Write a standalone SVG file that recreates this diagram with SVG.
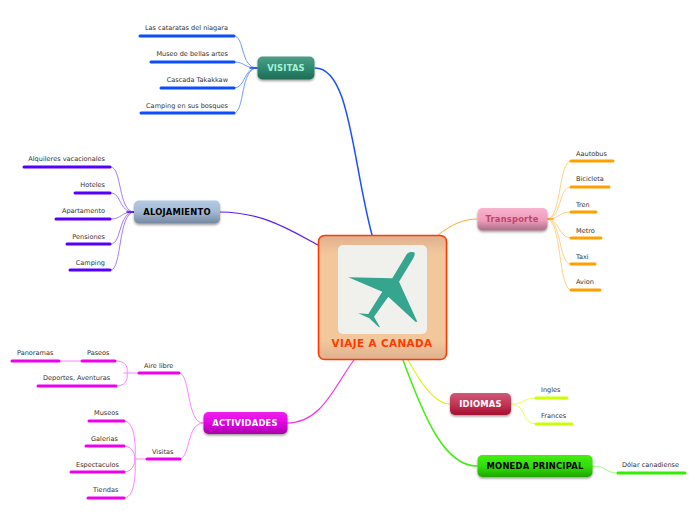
<svg xmlns="http://www.w3.org/2000/svg" width="696" height="520" viewBox="0 0 696 520">
<style>
text{font-family:"DejaVu Sans",sans-serif}
.t{font-size:6.55px;fill:#333}
.e{text-anchor:end}
.n{font-size:8.4px;font-weight:bold;text-anchor:middle;letter-spacing:.2px}
.c{fill:none;stroke-linecap:round}
.b{fill:none;stroke-width:3px;stroke-linecap:round}
.l{stroke-width:1px}
.m{stroke-width:1.5px}
.box{filter:url(#s);stroke-width:1}
</style>
<defs>
<filter id="s" x="-15%" y="-20%" width="130%" height="150%"><feDropShadow dx="0" dy="1.5" stdDeviation="1.2" flood-color="#000" flood-opacity=".4"/></filter>
<linearGradient id="gv" x1="0" y1="0" x2="0" y2="1"><stop offset="0" stop-color="#4f9d87"/><stop offset=".5" stop-color="#2f8a70"/><stop offset="1" stop-color="#1f6b55"/></linearGradient>
<linearGradient id="ga" x1="0" y1="0" x2="0" y2="1"><stop offset="0" stop-color="#b4c9e2"/><stop offset=".5" stop-color="#a3b8d2"/><stop offset="1" stop-color="#7487a0"/></linearGradient>
<linearGradient id="gt" x1="0" y1="0" x2="0" y2="1"><stop offset="0" stop-color="#f9b4cd"/><stop offset=".55" stop-color="#ee9dbb"/><stop offset="1" stop-color="#a96e85"/></linearGradient>
<linearGradient id="gi" x1="0" y1="0" x2="0" y2="1"><stop offset="0" stop-color="#cf5a78"/><stop offset=".5" stop-color="#c23556"/><stop offset="1" stop-color="#a3102f"/></linearGradient>
<linearGradient id="gm" x1="0" y1="0" x2="0" y2="1"><stop offset="0" stop-color="#44ee11"/><stop offset=".55" stop-color="#2fdc06"/><stop offset="1" stop-color="#20a504"/></linearGradient>
<linearGradient id="gc" x1="0" y1="0" x2="0" y2="1"><stop offset="0" stop-color="#ee22ee"/><stop offset=".55" stop-color="#e000e0"/><stop offset="1" stop-color="#a800a8"/></linearGradient>
<linearGradient id="gr" x1="0" y1="0" x2="0" y2="1"><stop offset="0" stop-color="#deb08f"/><stop offset=".15" stop-color="#f3c79c"/><stop offset=".85" stop-color="#f3c79c"/><stop offset="1" stop-color="#deb08f"/></linearGradient>
</defs>

<g id="connectors">
<path class="c" stroke="#1a4fff" stroke-width="1.5" d="M315 68C350 68 352 160 372 235"/>
<path class="c" stroke="#5a1aff" stroke-width="1.2" d="M220 212C262 212 290 230 318 245"/>
<path class="c" stroke="#ffa930" stroke-width="1" d="M438 235C452 224 464 219 477 219"/>
<path class="c" stroke="#ee33ee" stroke-width="1.2" d="M287 423C322 423 335 385 354 360"/>
<path class="c" stroke="#ddf020" stroke-width="1.2" d="M408 360C422 385 435 404 450 404"/>
<path class="c" stroke="#44ee11" stroke-width="1.5" d="M403 360C425 420 445 466 477 466"/>

<g stroke="#7099ff">
<path class="c l" d="M257 68C240 68 245 36 234 36"/>
<path class="c l" d="M257 68C243 68 246 62 234 62"/>
<path class="c l" d="M257 68C243 68 246 88 234 88"/>
<path class="c l" d="M257 68C240 68 245 113 234 113"/>
</g>
<path class="c m" stroke="#0b4dff" d="M250 68H257"/>
<g class="b" stroke="#0b4dff">
<path d="M140 36H234"/><path d="M151 62H234"/><path d="M161 88H234"/><path d="M141 113H234"/>
</g>

<g stroke="#a67aff">
<path class="c l" d="M134 212C118 212 122 167 111 167"/>
<path class="c l" d="M134 212C118 212 122 193 111 193"/>
<path class="c l" d="M134 212C120 212 122 219 111 219"/>
<path class="c l" d="M134 212C118 212 122 244 111 244"/>
<path class="c l" d="M134 212C118 212 122 270 111 270"/>
</g>
<path class="c m" stroke="#5500ff" d="M127 212H134"/>
<g class="b" stroke="#5500ff">
<path d="M24 167H110"/><path d="M75 193H110"/><path d="M56 219H110"/><path d="M67 244H110"/><path d="M70 270H110"/>
</g>

<g stroke="#ffcf8a">
<path class="c l" d="M547 219C562 219 558 161 571 161"/>
<path class="c l" d="M547 219C562 219 558 187 571 187"/>
<path class="c l" d="M547 219C560 219 558 212 571 212"/>
<path class="c l" d="M547 219C560 219 558 238 571 238"/>
<path class="c l" d="M547 219C562 219 558 264 571 264"/>
<path class="c l" d="M547 219C562 219 558 290 571 290"/>
</g>
<path class="c m" stroke="#ff9f00" d="M547 219H553"/>
<g class="b" stroke="#ff9f00">
<path d="M571 161H613"/><path d="M571 187H609"/><path d="M571 212H596"/><path d="M571 238H601"/><path d="M571 264H595"/><path d="M571 290H600"/>
</g>

<g stroke="#e8ff66">
<path class="c l" d="M511 404C525 404 523 398 536 398"/>
<path class="c l" d="M511 404C527 404 521 424 536 424"/>
</g>
<g class="b" stroke="#ccff00"><path d="M536 398H567"/><path d="M536 424H572"/></g>

<path class="c l" stroke="#99ff80" d="M592 466C608 466 604 473 618 473"/>
<path class="b" stroke="#33ee00" d="M618 473H685"/>

<g stroke="#ff80ff">
<path class="c l" d="M203 423C186 423 191 373 179 373"/>
<path class="c l" d="M203 423C186 423 191 459 179 459"/>
<path class="c l" d="M116 361C130 361 127 373 127 373C127 373 130 386 116 386"/>
<path class="c l" d="M60 361H82"/>
<path class="c l" d="M124 373H139"/>
<path class="c l" d="M124 421C138 421 135 459 135 459C135 459 138 498 124 498"/>
<path class="c l" d="M124 446C135 446 135 459 135 459C135 459 135 472 124 472"/>
<path class="c l" d="M135 459H147"/>
</g>
<g class="b" stroke="#ee00ee">
<path d="M139 373H179"/><path d="M147 459H180"/><path d="M82 361H115"/><path d="M38 386H116"/><path d="M12 361H59"/>
<path d="M89 421H124"/><path d="M86 446H124"/><path d="M71 472H124"/><path d="M88 498H124"/>
</g>
</g>

<g id="central">
<rect x="318.500" y="235.500" width="128" height="124" rx="6" fill="url(#gr)" stroke="#ff3a00" stroke-width="1.6"/>
<rect x="338" y="245" width="89" height="89" rx="5" fill="#f0f0ec"/>
<path fill="#35a58f" d="M348.300 277.300L392.300 278.300L406.700 254.300C408 252.500 410 252 411.700 252C413.500 252 414.700 252.500 414.700 253.300C414.800 255 414 257 413.300 258.300L399 281.700L417.300 321.700L415.700 322L388.300 296.700L374 316.700L380 327.300L378.700 327L369.300 318.300L358.300 313.300L368.300 314L382.300 291.700Z"/>
<text x="382" y="347" text-anchor="middle" font-size="10.400" font-weight="bold" fill="#ff3a00" letter-spacing=".4">VIAJE A CANADA</text>
</g>

<g id="visitas">
<rect class="box" x="257.500" y="56.500" width="57" height="23" rx="5" fill="url(#gv)"/>
<text class="n" x="286" y="71" fill="#a5f2d8">VISITAS</text>
</g>
<g id="alojamiento">
<rect class="box" x="134" y="200.500" width="86" height="23" rx="5" fill="url(#ga)"/>
<text class="n" x="177" y="215" fill="#000">ALOJAMIENTO</text>
</g>
<g id="transporte">
<rect class="box" x="477.500" y="208" width="70" height="22.500" rx="5" fill="url(#gt)"/>
<text class="n" x="512" y="222" fill="#c2416f">Transporte</text>
</g>
<g id="idiomas">
<rect class="box" x="450" y="393" width="61" height="22" rx="5" fill="url(#gi)"/>
<text class="n" x="480.500" y="407" fill="#fff">IDIOMAS</text>
</g>
<g id="moneda">
<rect class="box" x="477.500" y="455" width="115" height="22" rx="5" fill="url(#gm)"/>
<text class="n" x="535" y="469" fill="#000">MONEDA PRINCIPAL</text>
</g>
<g id="actividades">
<rect class="box" x="203.500" y="412" width="84" height="22" rx="5" fill="url(#gc)"/>
<text class="n" x="245" y="426" fill="#fff">ACTIVIDADES</text>
</g>

<g id="labels">
<text class="t e" x="228" y="30">Las cataratas del niagara</text>
<text class="t e" x="228" y="56">Museo de bellas artes</text>
<text class="t e" x="228" y="82">Cascada Takakkaw</text>
<text class="t e" x="228" y="108">Camping en sus bosques</text>
<text class="t e" x="105" y="161">Alquileres vacacionales</text>
<text class="t e" x="105" y="187">Hoteles</text>
<text class="t e" x="105" y="213">Apartamento</text>
<text class="t e" x="105" y="239">Pensiones</text>
<text class="t e" x="105" y="265">Camping</text>
<text class="t" x="576" y="156">Aautobus</text>
<text class="t" x="576" y="181">Bicicleta</text>
<text class="t" x="576" y="207">Tren</text>
<text class="t" x="576" y="233">Metro</text>
<text class="t" x="576" y="259">Taxi</text>
<text class="t" x="576" y="284">Avion</text>
<text class="t" x="541" y="392">Ingles</text>
<text class="t" x="541" y="418">Frances</text>
<text class="t" x="622" y="467">Dólar canadiense</text>
<text class="t" x="144" y="368">Aire libre</text>
<text class="t" x="152" y="454">Visitas</text>
<text class="t" x="87" y="355">Paseos</text>
<text class="t" x="17" y="355">Panoramas</text>
<text class="t" x="43" y="380">Deportes, Aventuras</text>
<text class="t" x="94" y="415">Museos</text>
<text class="t" x="91" y="441">Galerias</text>
<text class="t" x="76" y="467">Espectaculos</text>
<text class="t" x="93" y="492">Tiendas</text>
</g>
</svg>
